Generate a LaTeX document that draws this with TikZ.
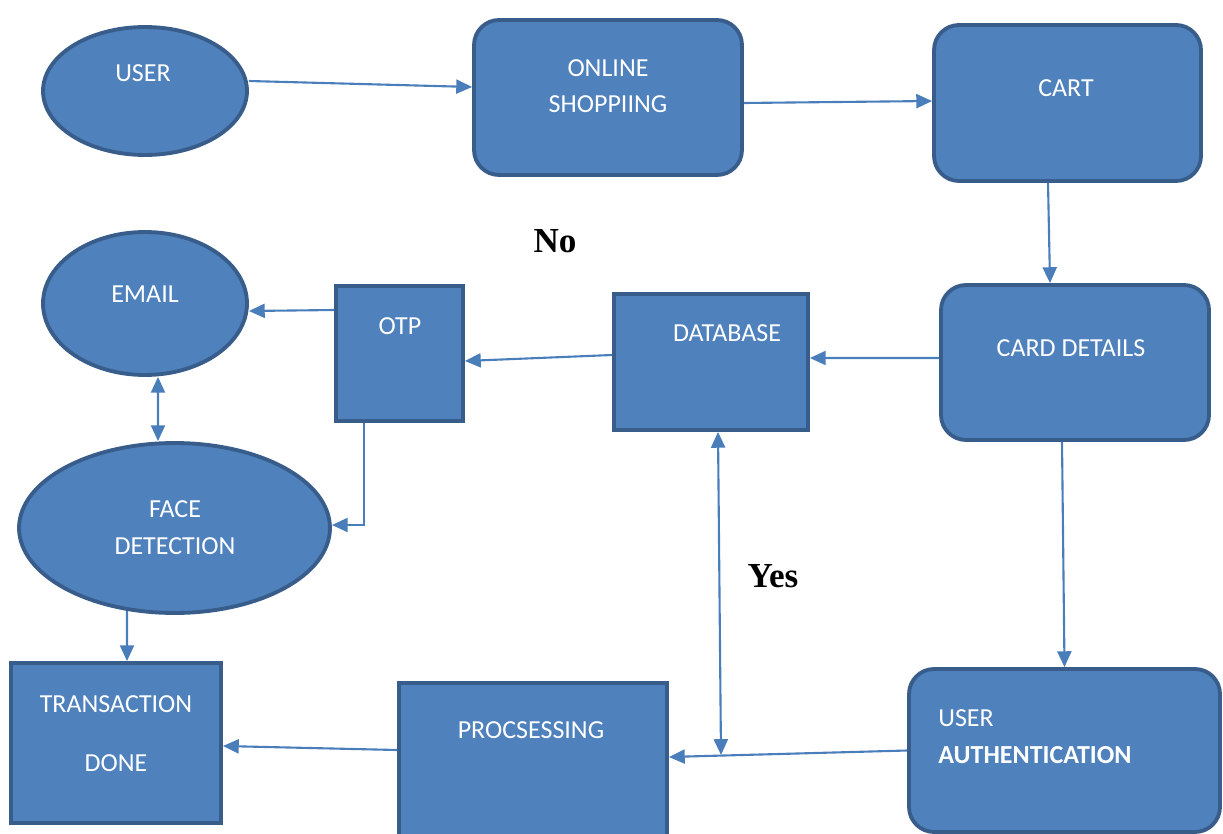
\documentclass[tikz,border=0pt]{standalone}
\usepackage{fontspec}
\setmainfont{Carlito}
\newfontfamily\serifb{Liberation Serif}
\usetikzlibrary{shapes.geometric,arrows.meta}
\definecolor{boxfill}{HTML}{4F81BD}
\definecolor{boxline}{HTML}{385D8A}
\definecolor{arr}{HTML}{4A7EBB}
\tikzset{
  shp/.style={fill=boxfill,draw=boxline,line width=2.2pt,inner sep=0pt},
  oval/.style={shp,ellipse},
  sq/.style={shp,rectangle},
  rbox/.style={shp,rectangle,rounded corners=0.5cm},
  txt/.style={text=white,font=\fontsize{14.8}{17}\selectfont,inner sep=0pt},
  lbl/.style={font=\serifb\bfseries\fontsize{20}{24}\selectfont,inner sep=0pt},
  conn/.style={draw=arr,line width=1.2pt,-{Triangle[length=9pt,width=8pt]}},
  conn2/.style={draw=arr,line width=1.2pt,{Triangle[length=9pt,width=8pt]}-{Triangle[length=9pt,width=8pt]}}
}
\begin{document}
\begin{tikzpicture}[x=0.02cm,y=-0.02cm]
\useasboundingbox (0,0) rectangle (1223,834);
% shapes
\node[oval,minimum width=4.08cm,minimum height=2.56cm] (user) at (145,91) {};
\node[rbox,minimum width=5.36cm,minimum height=3.1cm] (online) at (608,97.5) {};
\node[rbox,minimum width=5.34cm,minimum height=3.12cm] (cart) at (1067.5,103) {};
\node[oval,minimum width=4.08cm,minimum height=2.86cm] (email) at (145,303.5) {};
\node[sq,minimum width=2.54cm,minimum height=2.7cm] (otp) at (399.5,353.5) {};
\node[sq,minimum width=3.88cm,minimum height=2.72cm] (db) at (711,362) {};
\node[rbox,minimum width=5.36cm,minimum height=3.1cm] (card) at (1075,362.5) {};
\node[oval,minimum width=6.22cm,minimum height=3.4cm] (face) at (174.5,528) {};
\node[sq,minimum width=4.2cm,minimum height=3.2cm] (trans) at (116,743) {};
\node[sq,minimum width=5.36cm,minimum height=3.2cm] (proc) at (533,763) {};
\node[rbox,minimum width=6.22cm,minimum height=3.26cm] (ua) at (1064.5,750.5) {};
% texts
\node[txt] (tuser) at (143,73) {USER};
\node[txt] (tonl1) at (608,68) {ONLINE};
\node[txt] (tonl2) at (608,104) {SHOPPIING};
\node[txt] (tcart) at (1066,88) {CART};
\node[txt] (temail) at (145,294) {EMAIL};
\node[txt] (totp) at (400,326) {OTP};
\node[txt] (tdb) at (727,333) {DATABASE};
\node[txt] (tcard) at (1071,348) {CARD DETAILS};
\node[txt] (tface1) at (175,509) {FACE};
\node[txt] (tface2) at (175,546) {DETECTION};
\node[txt] (ttr1) at (116,704) {TRANSACTION};
\node[txt] (ttr2) at (116,763) {DONE};
\node[txt] (tproc) at (531,730) {PROCSESSING};
\node[txt,anchor=west] (tua1) at (938,718) {USER};
\node[txt,anchor=west,font=\bfseries\fontsize{14.8}{17}\selectfont] (tua2) at (938,755) {AUTHENTICATION};
\node[lbl] (no) at (555,241) {No};
\node[lbl] (yes) at (773,576) {Yes};
% connectors
\draw[conn] ([yshift=0.2cm]user.east) -- ([yshift=0.21cm]online.west);
\draw[conn] ([yshift=-0.11cm]online.east) -- ([yshift=0.04cm]cart.west);
\draw[conn] ([xshift=-0.39cm]cart.south) -- ([xshift=-0.5cm]card.north);
\draw[conn] ([yshift=0.09cm]card.west) -- ([yshift=0.08cm]db.east);
\draw[conn] ([yshift=0.14cm]db.west) -- ([yshift=-0.15cm]otp.east);
\draw[conn] ([yshift=0.87cm]otp.west) -- ([yshift=-0.15cm]email.east);
\draw[conn2] ([xshift=0.26cm]email.south) -- ([xshift=-0.33cm]face.north);
\draw[conn] ([xshift=-0.71cm]otp.south) |- ([yshift=0.06cm]face.east);
\draw[conn] ([xshift=-0.95cm,yshift=0.08cm]face.south) -- ([xshift=0.22cm]trans.north);
\draw[conn] ([xshift=-0.26cm]card.south) -- (ua.north);
\draw[conn] (ua.west) -- ([yshift=0.12cm]proc.east);
\coordinate (j) at (721,755);
\draw[conn2] ([xshift=0.14cm]db.south) -- (j);
\draw[conn] ([yshift=0.26cm]proc.west) -- ([yshift=-0.06cm]trans.east);
\end{tikzpicture}
\end{document}
